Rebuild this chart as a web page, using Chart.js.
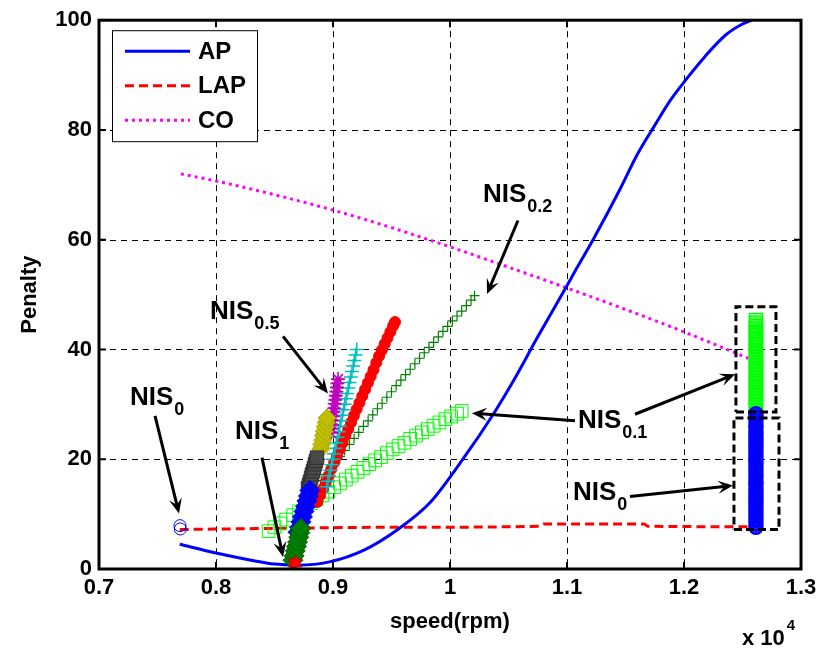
<!DOCTYPE html>
<html>
<head>
<meta charset="utf-8">
<style>
  html, body { margin: 0; padding: 0; background: #fff; }
  canvas { display: block; }
</style>
<script src="https://cdn.jsdelivr.net/npm/chart.js@4/dist/chart.umd.min.js"></script>
</head>
<body>
<canvas id="chart" width="823" height="651"></canvas>
<script>
// Speed values are in units of 10^4 rpm (the axis carries the "x 10^4" multiplier).
const xTicks = [0.7, 0.8, 0.9, 1.0, 1.1, 1.2, 1.3];
const yTicks = [0, 20, 40, 60, 80, 100];

// Penalty curves
const apCurve = [[0.769,4.5],[0.800,2.9],[0.830,1.6],[0.850,0.9],[0.870,0.7],[0.897,1.3],[0.926,3.4],[0.956,7.3],[0.983,12.1],[1.011,20.0],[1.037,28.2],[1.054,34.2],[1.075,42.3],[1.097,50.5],[1.108,54.7],[1.1225,60.1],[1.1453,69.2],[1.1595,75.3],[1.1746,80.7],[1.188,85.3],[1.2003,88.8],[1.218,93.4],[1.2356,97.3],[1.250,99.3],[1.258,100]];
const lapCurve = [[0.769,7.2],[0.850,7.4],[0.950,7.6],[1.077,7.8],[1.080,8.2],[1.166,8.2],[1.169,7.8],[1.262,7.7]];
const coCurve = [[0.770,72.0],[0.800,70.7],[0.850,68.2],[0.900,65.4],[0.950,62.2],[1.000,58.7],[1.050,55.0],[1.100,51.2],[1.150,47.3],[1.200,43.2],[1.255,38.4]];

// Solution sets (NIS) for different weights
const nis0Left = [[0.7692,7.9],[0.7695,7.3]];
const nis1Star = [[0.8675,1.1]];
const nisGreenFill = [[0.8658,1.6],[0.8668,2.4],[0.8678,3.3],[0.8687,4.1],[0.8697,4.9],[0.8707,5.8],[0.8716,6.6],[0.8726,7.4]];
const nisBlueFill = [[0.8701,6.7],[0.8714,7.6],[0.8726,8.6],[0.8739,9.5],[0.8752,10.5],[0.8765,11.4],[0.8777,12.4],[0.8790,13.3],[0.8803,14.3]];
const nisGray = [[0.8786,14.7],[0.8795,15.3],[0.8803,15.9],[0.8812,16.6],[0.8820,17.2],[0.8829,17.8],[0.8837,18.4],[0.8846,19.1],[0.8854,19.7],[0.8863,20.3]];
const nisOlive = [[0.8897,21.9],[0.8904,22.7],[0.8912,23.5],[0.8919,24.3],[0.8926,25.1],[0.8934,25.9],[0.8941,26.7],[0.8949,27.5]];
const nis05 = [[0.8983,24.8],[0.8988,25.6],[0.8992,26.3],[0.8997,27.1],[0.9001,27.8],[0.9006,28.6],[0.9011,29.3],[0.9015,30.1],[0.9020,30.8],[0.9024,31.6],[0.9029,32.3],[0.9034,33.1],[0.9038,33.8],[0.9043,34.6]];
const nisCyan = [[0.8946,15],[0.8957,16],[0.8967,17],[0.8977,18],[0.8987,19],[0.8998,20],[0.9008,21],[0.9018,22],[0.9028,23],[0.9039,24],[0.9049,25],[0.9059,26],[0.9069,27],[0.9080,28],[0.9090,29],[0.9100,30],[0.9111,31],[0.9121,32],[0.9131,33],[0.9141,34],[0.9152,35],[0.9162,36],[0.9172,37],[0.9182,38],[0.9193,39],[0.9203,40]];
const nisRed = [[0.8866,12.2],[0.8890,13.4],[0.8914,14.6],[0.8938,15.8],[0.8962,17.0],[0.8986,18.2],[0.9010,19.4],[0.9034,20.6],[0.9058,21.8],[0.9082,23.0],[0.9106,24.3],[0.9130,25.5],[0.9154,26.7],[0.9178,27.9],[0.9202,29.1],[0.9226,30.3],[0.9250,31.5],[0.9274,32.7],[0.9298,33.9],[0.9322,35.1],[0.9346,36.3],[0.9370,37.6],[0.9394,38.8],[0.9418,39.9],[0.9442,41.0],[0.9466,42.1],[0.9490,43.2],[0.9514,44.3],[0.9530,45.0]];
const nis02 = [[0.878,12.6],[0.882,13.8],[0.886,15.0],[0.890,16.1],[0.894,17.2],[0.898,18.3],[0.902,19.4],[0.906,20.5],[0.910,21.6],[0.914,22.7],[0.918,23.8],[0.922,24.9],[0.926,26.0],[0.930,27.0],[0.934,28.1],[0.938,29.2],[0.942,30.2],[0.946,31.3],[0.950,32.3],[0.954,33.4],[0.958,34.4],[0.962,35.4],[0.966,36.4],[0.970,37.4],[0.974,38.4],[0.978,39.4],[0.982,40.4],[0.986,41.3],[0.990,42.3],[0.994,43.3],[0.998,44.2],[1.002,45.2],[1.006,46.1],[1.010,47.0],[1.014,48.0],[1.018,49.0],[1.021,49.8]];
const nis01 = [[0.845,6.9],[0.850,7.6],[0.855,8.3],[0.860,9.0],[0.866,9.8],[0.871,10.5],[0.876,11.2],[0.881,12.0],[0.886,12.7],[0.891,13.4],[0.896,14.1],[0.901,14.9],[0.906,15.6],[0.911,16.3],[0.916,17.0],[0.921,17.7],[0.926,18.4],[0.931,19.1],[0.936,19.8],[0.941,20.4],[0.946,21.1],[0.951,21.8],[0.956,22.4],[0.961,23.0],[0.966,23.7],[0.971,24.3],[0.976,24.9],[0.981,25.5],[0.986,26.1],[0.991,26.7],[0.996,27.3],[1.001,27.8],[1.006,28.3],[1.010,28.8]];

// Stacks at the top speed
const stackSpeed = 1.2615;
const stack01Penalty = [28.9,29.5,30.0,30.6,31.1,31.7,32.2,32.8,33.3,33.9,34.4,35.0,35.5,36.1,36.6,37.2,37.7,38.3,38.8,39.4,39.9,40.5,41.0,41.6,42.1,42.7,43.2,43.8,44.3,44.9,45.4];
const stack0Penalty = [7.6,8.2,8.9,9.5,10.2,10.8,11.5,12.1,12.8,13.4,14.1,14.7,15.4,16.0,16.7,17.3,18.0,18.6,19.3,19.9,20.6,21.2,21.9,22.5,23.2,23.8,24.5,25.1,25.8,26.4,27.1,27.7,28.3];
const box01 = [[1.2444,28.6],[1.2786,28.6],[1.2786,47.8],[1.2444,47.8],[1.2444,28.6]];
const box0 = [[1.2427,7.2],[1.2812,7.2],[1.2812,27.5],[1.2427,27.5],[1.2427,7.2]];

// Callouts: label anchor (speed, penalty), subscript, arrows [from, to]
const callouts = [
  { at: [0.7265, 29.9], sub: '0',   arrows: [[[0.7479, 27.9], [0.7684, 10.1]]] },
  { at: [0.8162, 23.7], sub: '1',   arrows: [[[0.8393, 20.3], [0.8573, 2.2]]] },
  { at: [0.7949, 45.6], sub: '0.5', arrows: [[[0.8573, 42.4], [0.8957, 32.0]]] },
  { at: [1.0282, 66.8], sub: '0.2', arrows: [[[1.0581, 63.5], [1.0316, 50.1]]] },
  { at: [1.1094, 25.7], sub: '0.1', arrows: [[[1.1581, 28.2], [1.2436, 35.5]], [[1.1068, 27.0], [1.0188, 28.4]]] },
  { at: [1.1051, 12.5], sub: '0',   arrows: [[[1.1538, 13.2], [1.2419, 15.2]]] }
];

const FONT = "'Liberation Sans', Arial, Helvetica, sans-serif";
const pts = arr => arr.map(([x, y]) => ({ x, y }));
const stack = vals => vals.map(y => ({ x: stackSpeed, y }));

function hexagram(r, fill, stroke) {
  const c = document.createElement('canvas');
  const s = Math.ceil(2 * r + 4);
  c.width = c.height = s;
  const g = c.getContext('2d');
  g.beginPath();
  for (let i = 0; i < 12; i++) {
    const a = -Math.PI / 2 + i * Math.PI / 6;
    const rr = i % 2 === 0 ? r : r * 0.577;
    g.lineTo(s / 2 + rr * Math.cos(a), s / 2 + rr * Math.sin(a));
  }
  g.closePath();
  g.fillStyle = fill; g.fill();
  g.strokeStyle = stroke; g.lineWidth = 1; g.stroke();
  return c;
}

const lineStyle = (color, dash) => ({
  showLine: true, borderColor: color, borderWidth: 3, borderDash: dash,
  pointRadius: 0, fill: false, tension: 0.35, cubicInterpolationMode: 'monotone'
});
const marker = (style, r, border, fill, bw) => ({
  showLine: false, pointStyle: style, pointRadius: r, pointHoverRadius: r,
  borderColor: border, backgroundColor: fill, borderWidth: bw
});

// listed bottom-to-top in drawing order
const layers = [
  { label: 'CO',  data: pts(coCurve),  ...lineStyle('#ff00ff', [3, 4]) },
  { label: 'LAP', data: pts(lapCurve), ...lineStyle('#ff0000', [9, 5]), tension: 0 },
  { label: 'AP',  data: pts(apCurve),  ...lineStyle('#0000ff', []) },
  { label: 'NIS0.1', data: pts(nis01), ...marker('rect', 9, '#00ff00', 'rgba(0,0,0,0)', 1) },
  { label: 'NIS0.2', data: pts(nis02), ...marker('cross', 5, '#008000', '#008000', 1.2) },
  { label: 'red', data: pts(nisRed), ...marker('circle', 5.5, '#ff0000', '#ff0000', 1) },
  { label: 'cyan', data: pts(nisCyan), ...marker('cross', 7, '#00bfbf', '#00bfbf', 1.5) },
  { label: 'NIS0.5', data: pts(nis05), ...marker('star', 7, '#bf00bf', '#bf00bf', 1.6) },
  { label: 'olive', data: pts(nisOlive), ...marker('rectRot', 9, '#a8a800', '#bfbf00', 1) },
  { label: 'gray', data: pts(nisGray), ...marker('rect', 9.5, '#303030', '#4a4a4a', 1) },
  { label: 'blue', data: pts(nisBlueFill), ...marker('rectRot', 10, '#0000ff', '#0000ff', 1) },
  { label: 'green', data: pts(nisGreenFill), ...marker('rectRot', 10, '#006000', '#008000', 1) },
  { label: 'NIS1', data: pts(nis1Star), ...marker(hexagram(7.5, '#ff0000', '#cc0000'), 7.5, '#ff0000', '#ff0000', 1) },
  { label: 'NIS0', data: pts(nis0Left), ...marker('circle', 6, '#0000ff', 'rgba(0,0,0,0)', 1) },
  { label: 'stack0.1', data: stack(stack01Penalty), ...marker('rect', 9.2, '#00ff00', 'rgba(0,255,0,0.35)', 1.4) },
  { label: 'stack0', data: stack(stack0Penalty), ...marker('circle', 6.5, '#0000ff', 'rgba(0,0,255,0.6)', 2.5) },
  { label: 'box0.1', data: pts(box01), ...lineStyle('#000000', [8, 4]), tension: 0 },
  { label: 'box0', data: pts(box0), ...lineStyle('#000000', [8, 4]), tension: 0 }
];
layers.forEach((d, i) => { d.order = layers.length - i; });

function drawArrow(ctx, x1, y1, x2, y2) {
  const a = Math.atan2(y2 - y1, x2 - x1), c = Math.cos(a), s = Math.sin(a);
  const L = 15, W = 6.5, N = 9;
  ctx.beginPath();
  ctx.moveTo(x1, y1);
  ctx.lineTo(x2 - N * c, y2 - N * s);
  ctx.stroke();
  ctx.beginPath();
  ctx.moveTo(x2, y2);
  ctx.lineTo(x2 - L * c - W * s, y2 - L * s + W * c);
  ctx.lineTo(x2 - N * c, y2 - N * s);
  ctx.lineTo(x2 - L * c + W * s, y2 - L * s - W * c);
  ctx.closePath();
  ctx.fill();
}

const axesFrame = {
  id: 'axesFrame',
  beforeDatasetsDraw(chart) {
    const { ctx, chartArea: a, scales: { x, y } } = chart;
    ctx.save();
    ctx.strokeStyle = '#000';
    ctx.lineWidth = 1;
    ctx.setLineDash([6, 5]);
    xTicks.forEach(v => {
      const px = Math.round(x.getPixelForValue(v)) + 0.5;
      ctx.beginPath(); ctx.moveTo(px, a.top); ctx.lineTo(px, a.bottom); ctx.stroke();
    });
    yTicks.forEach(v => {
      const py = Math.round(y.getPixelForValue(v)) + 0.5;
      ctx.beginPath(); ctx.moveTo(a.left, py); ctx.lineTo(a.right, py); ctx.stroke();
    });
    ctx.restore();
  },
  afterDatasetsDraw(chart) {
    const { ctx, chartArea: a, scales: { x, y } } = chart;
    ctx.save();
    // callout arrows and labels
    ctx.strokeStyle = '#000';
    ctx.fillStyle = '#000';
    ctx.lineWidth = 3;
    ctx.lineCap = 'butt';
    callouts.forEach(c => {
      c.arrows.forEach(([p, q]) => {
        drawArrow(ctx, x.getPixelForValue(p[0]), y.getPixelForValue(p[1]),
                       x.getPixelForValue(q[0]), y.getPixelForValue(q[1]));
      });
      const tx = x.getPixelForValue(c.at[0]), ty = y.getPixelForValue(c.at[1]);
      ctx.textBaseline = 'alphabetic';
      ctx.textAlign = 'left';
      ctx.font = `bold 26px ${FONT}`;
      ctx.fillText('NIS', tx, ty);
      const w = ctx.measureText('NIS').width;
      ctx.font = `bold 18px ${FONT}`;
      ctx.fillText(c.sub, tx + w + 1, ty + 10);
    });

    // legend
    const lx = a.left + 13, ly = a.top + 10, lw = 145, lh = 111;
    ctx.fillStyle = '#fff';
    ctx.fillRect(lx, ly, lw, lh);
    ctx.strokeStyle = '#000';
    ctx.lineWidth = 1;
    ctx.setLineDash([]);
    ctx.strokeRect(lx + 0.5, ly + 0.5, lw, lh);
    ['AP', 'LAP', 'CO'].forEach((name, i) => {
      const d = layers.find(l => l.label === name);
      const yy = ly + 21 + i * 34.5;
      ctx.strokeStyle = d.borderColor;
      ctx.lineWidth = 3;
      ctx.setLineDash(d.borderDash);
      ctx.beginPath(); ctx.moveTo(lx + 13, yy); ctx.lineTo(lx + 78, yy); ctx.stroke();
      ctx.setLineDash([]);
      ctx.fillStyle = '#000';
      ctx.font = `bold 24px ${FONT}`;
      ctx.textAlign = 'left';
      ctx.textBaseline = 'middle';
      ctx.fillText(name, lx + 86, yy + 1);
    });

    // axes box with inward ticks
    ctx.strokeStyle = '#000';
    ctx.lineWidth = 3;
    ctx.strokeRect(a.left, a.top, a.right - a.left, a.bottom - a.top);
    ctx.lineWidth = 2;
    const T = 7;
    xTicks.forEach(v => {
      const px = x.getPixelForValue(v);
      ctx.beginPath(); ctx.moveTo(px, a.bottom); ctx.lineTo(px, a.bottom - T); ctx.stroke();
      ctx.beginPath(); ctx.moveTo(px, a.top); ctx.lineTo(px, a.top + T); ctx.stroke();
    });
    yTicks.forEach(v => {
      const py = y.getPixelForValue(v);
      ctx.beginPath(); ctx.moveTo(a.left, py); ctx.lineTo(a.left + T, py); ctx.stroke();
      ctx.beginPath(); ctx.moveTo(a.right, py); ctx.lineTo(a.right - T, py); ctx.stroke();
    });
    ctx.restore();
  },
  afterDraw(chart) {
    const { ctx, chartArea: a } = chart;
    ctx.save();
    ctx.fillStyle = '#000';
    ctx.font = `bold 22px ${FONT}`;
    ctx.textAlign = 'center';
    ctx.textBaseline = 'middle';
    ctx.fillText('speed(rpm)', (a.left + a.right) / 2, 622);
    ctx.save();
    ctx.translate(30, (a.top + a.bottom) / 2);
    ctx.rotate(-Math.PI / 2);
    ctx.fillText('Penalty', 0, 0);
    ctx.restore();
    ctx.textAlign = 'left';
    ctx.textBaseline = 'alphabetic';
    ctx.font = `bold 22px ${FONT}`;
    ctx.fillText('x 10', 742, 645);
    const w = ctx.measureText('x 10').width;
    ctx.font = `bold 15px ${FONT}`;
    ctx.fillText('4', 742 + w + 2, 630);
    ctx.restore();
  }
};

const tickFont = { family: FONT, size: 22, weight: 'bold' };

new Chart(document.getElementById('chart'), {
  type: 'scatter',
  data: { datasets: layers },
  options: {
    responsive: false,
    animation: false,
    devicePixelRatio: 1,
    events: [],
    layout: { padding: { top: 16.5, right: 22, left: 0, bottom: 0 } },
    plugins: { legend: { display: false }, tooltip: { enabled: false } },
    scales: {
      x: {
        type: 'linear', min: 0.7, max: 1.3,
        afterBuildTicks: s => { s.ticks = xTicks.map(v => ({ value: v })); },
        afterFit: s => { s.height = 82; },
        grid: { display: false, drawTicks: false },
        border: { display: false },
        ticks: { font: tickFont, color: '#000', padding: 6, maxRotation: 0, autoSkip: false,
                 callback: v => String(v) }
      },
      y: {
        type: 'linear', min: 0, max: 100,
        afterBuildTicks: s => { s.ticks = yTicks.map(v => ({ value: v })); },
        afterFit: s => { s.width = 99; },
        grid: { display: false, drawTicks: false },
        border: { display: false },
        ticks: { font: tickFont, color: '#000', padding: 7, autoSkip: false,
                 callback: v => String(v) }
      }
    }
  },
  plugins: [axesFrame]
});
</script>
</body>
</html>
